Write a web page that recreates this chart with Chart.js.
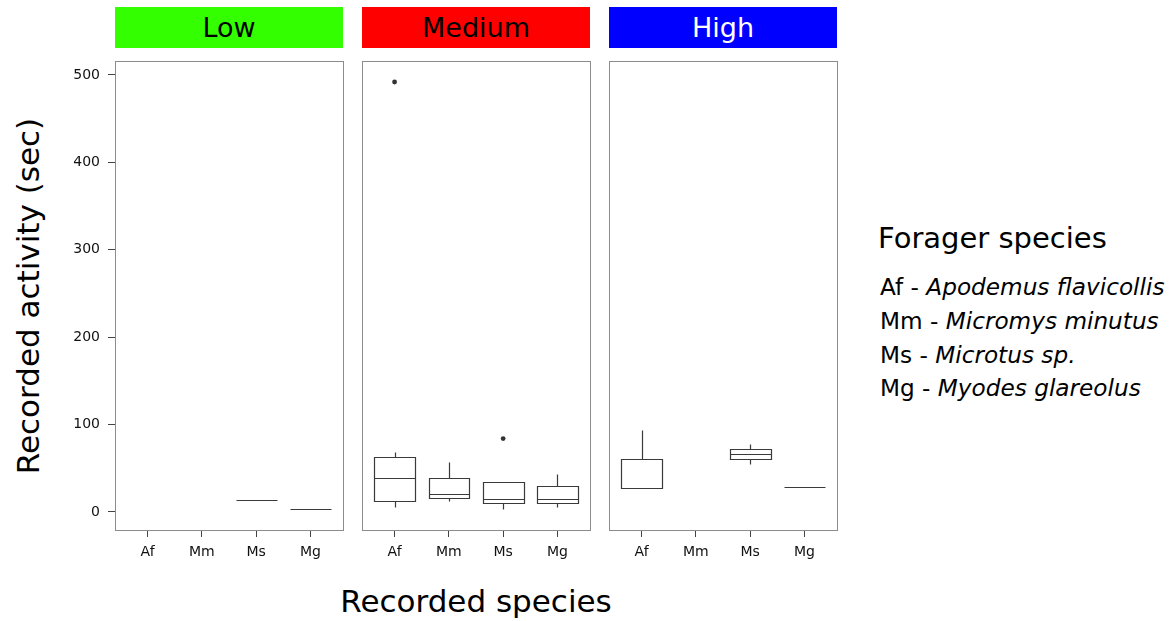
<!DOCTYPE html>
<html>
<head>
<meta charset="utf-8">
<script src="https://cdn.jsdelivr.net/npm/chart.js@4.4.0/dist/chart.umd.min.js"></script>
<style>
  body { margin:0; background:#fff; font-family:"DejaVu Sans", sans-serif; }
  #wrap { position:relative; width:1172px; height:621px; overflow:hidden; }
  .strip { position:absolute; top:7px; height:41px; width:228px; font-size:27px; line-height:42px; text-align:center; }
  .pane { position:absolute; top:55px; }
  .ytitle { position:absolute; left:28px; top:296px; font-size:31px; white-space:nowrap; transform:translate(-50%,-50%) rotate(-90deg); }
  .xtitle { position:absolute; left:476px; top:601px; font-size:31px; white-space:nowrap; transform:translate(-50%,-50%); }
  .legtitle { position:absolute; left:878px; top:238px; font-size:29px; white-space:nowrap; transform:translateY(-50%); }
  .legitem { position:absolute; left:880px; font-size:23.2px; white-space:nowrap; transform:translateY(-50%); }
</style>
</head>
<body>
<div id="wrap">
  <div class="strip" style="left:115px;background:#33ff00;color:#000">Low</div>
  <div class="strip" style="left:362px;background:#ff0000;color:#000">Medium</div>
  <div class="strip" style="left:609px;background:#0000ff;color:#fff">High</div>

  <div class="pane" style="left:60px"><canvas id="c0" width="289" height="515"></canvas></div>
  <div class="pane" style="left:356px"><canvas id="c1" width="240" height="515"></canvas></div>
  <div class="pane" style="left:603px"><canvas id="c2" width="240" height="515"></canvas></div>

  <div class="ytitle">Recorded activity (sec)</div>
  <div class="xtitle">Recorded species</div>

  <div class="legtitle">Forager species</div>
  <div class="legitem" style="top:286px">Af - <i>Apodemus flavicollis</i></div>
  <div class="legitem" style="top:320px">Mm - <i>Micromys minutus</i></div>
  <div class="legitem" style="top:354px">Ms - <i>Microtus sp.</i></div>
  <div class="legitem" style="top:387px">Mg - <i>Myodes glareolus</i></div>
</div>

<script>
// data
const categories = ['Af', 'Mm', 'Ms', 'Mg']
const panels = ['Low', 'Medium', 'High']
const yTicks = [0, 100, 200, 300, 400, 500]

// one row per panel, one entry per category (null = no data)
const whiskerLo = [[null, null, 13.4, 3.4], [6.1, 12.6, 3.1, 6.1], [27.1, null, 54.6, 28.3]]
const boxQ1     = [[null, null, 13.4, 3.4], [12.9, 15.6, 9.9, 10.7], [27.1, null, 60.3, 28.3]]
const boxMedian = [[null, null, 13.4, 3.4], [38.9, 20.2, 15.2, 15.2], [27.1, null, 66.4, 28.3]]
const boxQ3     = [[null, null, 13.4, 3.4], [62.6, 38.5, 34.7, 29.4], [60.6, null, 72.1, 28.3]]
const whiskerHi = [[null, null, 13.4, 3.4], [68.3, 56.8, 34.7, 43.1], [93.8, null, 77.8, 28.3]]

const outlierCat = [[], [0, 2], []]
const outlierVal = [[], [492, 84], []]

const boxPlugin = {
    id: 'boxes',
    beforeDatasetsDraw: (chart, args, opts) => {
        const ctx = chart.ctx
        const a = chart.chartArea
        const xs = chart.scales.x
        const ys = chart.scales.y
        const p = opts.panel
        ctx.save()
        // panel frame
        ctx.strokeStyle = '#8c8c8c'
        ctx.lineWidth = 1
        ctx.strokeRect(Math.round(a.left) + 0.5, Math.round(a.top) + 0.5, Math.round(a.right - a.left), Math.round(a.bottom - a.top))

        ctx.strokeStyle = '#3a3a3a'
        ctx.lineWidth = 1.2
        const px = v => Math.round(v) + 0.5
        categories.forEach((c, i) => {
            if (boxQ1[p][i] == null) return
            const xl = px(xs.getPixelForValue(i - 0.375))
            const xr = px(xs.getPixelForValue(i + 0.375))
            const xc = px(xs.getPixelForValue(i))
            const yq1 = px(ys.getPixelForValue(boxQ1[p][i]))
            const yq3 = px(ys.getPixelForValue(boxQ3[p][i]))
            const ymd = px(ys.getPixelForValue(boxMedian[p][i]))
            const ylo = px(ys.getPixelForValue(whiskerLo[p][i]))
            const yhi = px(ys.getPixelForValue(whiskerHi[p][i]))
            ctx.beginPath()
            ctx.moveTo(xc, yq3); ctx.lineTo(xc, yhi)
            ctx.moveTo(xc, yq1); ctx.lineTo(xc, ylo)
            ctx.stroke()
            ctx.beginPath()
            ctx.rect(xl, yq3, xr - xl, yq1 - yq3)
            ctx.moveTo(xl, ymd); ctx.lineTo(xr, ymd)
            ctx.stroke()
        })
        ctx.restore()
    }
}

const tickFont = { family: 'DejaVu Sans', size: 14 }
const noPad = s => { s.paddingTop = 0; s.paddingBottom = 0; s.paddingLeft = 0; s.paddingRight = 0 }

panels.forEach((name, p) => {
    const first = p === 0
    new Chart(document.getElementById('c' + p), {
        type: 'scatter',
        data: {
            datasets: [{
                data: outlierCat[p].map((c, k) => ({ x: c, y: outlierVal[p][k] })),
                pointRadius: 2.4,
                pointBackgroundColor: '#333',
                pointBorderWidth: 0
            }]
        },
        options: {
            responsive: false,
            animation: false,
            devicePixelRatio: 1,
            layout: { padding: { left: first ? 0 : 6, right: 6, top: 6, bottom: 0 } },
            plugins: {
                legend: { display: false },
                tooltip: { enabled: false },
                boxes: { panel: p }
            },
            scales: {
                x: {
                    type: 'linear',
                    min: -0.6,
                    max: 3.6,
                    afterBuildTicks: s => { s.ticks = categories.map((c, i) => ({ value: i })) },
                    afterFit: s => { s.height = 40; noPad(s) },
                    grid: { drawOnChartArea: false, drawTicks: true, tickLength: 7, tickColor: '#444' },
                    border: { display: false },
                    ticks: {
                        autoSkip: false, maxRotation: 0, padding: 7,
                        color: '#111', font: tickFont,
                        callback: v => categories[v]
                    }
                },
                y: {
                    display: first,
                    min: -20.6,
                    max: 516,
                    afterBuildTicks: s => { s.ticks = yTicks.map(v => ({ value: v })) },
                    afterFit: s => { s.width = first ? 55 : 0; noPad(s) },
                    grid: { drawOnChartArea: false, drawTicks: true, tickLength: 7, tickColor: '#444' },
                    border: { display: false },
                    ticks: { padding: 8, color: '#111', font: tickFont }
                }
            }
        },
        plugins: [boxPlugin]
    })
})
</script>
</body>
</html>
